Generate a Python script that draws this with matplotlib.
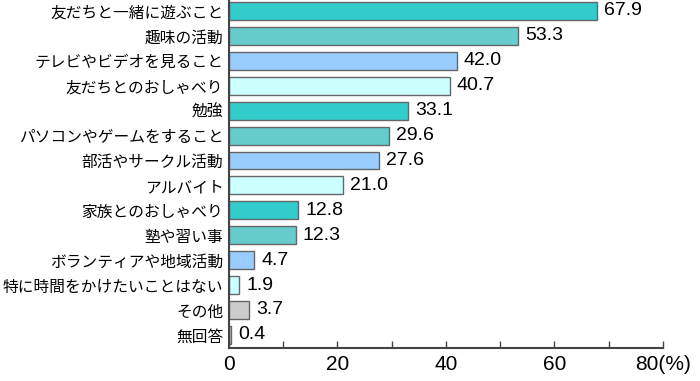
import matplotlib
matplotlib.use("Agg")
import matplotlib.pyplot as plt
import numpy as np

plt.rcParams['font.family'] = ['Noto Sans CJK JP', 'DejaVu Sans']

# categories, top to bottom
labels = ["友だちと一緒に遊ぶこと", "趣味の活動", "テレビやビデオを見ること",
          "友だちとのおしゃべり", "勉強", "パソコンやゲームをすること",
          "部活やサークル活動", "アルバイト", "家族とのおしゃべり", "塾や習い事",
          "ボランティアや地域活動", "特に時間をかけたいことはない", "その他", "無回答"]
values = [67.9, 53.3, 42.0, 40.7, 33.1, 29.6, 27.6, 21.0, 12.8, 12.3, 4.7, 1.9, 3.7, 0.4]
xticks = [0, 20, 40, 60, 80]
xticklabels = ["0", "20", "40", "60", "80(%)"]

palette = ["#33CCCC", "#66CCCC", "#99CCFF", "#CCFFFF"]
colors = [palette[i % 4] for i in range(12)] + ["#CCCCCC", "#CCCCCC"]

fig = plt.figure(figsize=(7, 3.81), dpi=100)
ax = fig.add_axes([0.327, 0.087, 0.62, 0.913])

ind = np.arange(len(labels))
ax.barh(ind, values, height=0.72, color=colors, edgecolor="#666666", linewidth=1.0)

for i, v in enumerate(values):
    ax.annotate("%.1f" % v, (v, i), xytext=(5, 0), textcoords="offset points",
                va="center", ha="left", fontsize=14, family="Liberation Sans")

ax.set_ylim(13.52, -0.44)
ax.set_xlim(0, 80)
ax.set_yticks(ind)
ax.set_yticklabels(labels, fontsize=11.3)
ax.tick_params(axis="y", length=0, pad=4)

ax.set_xticks(xticks)
ax.set_xticklabels(xticklabels, fontsize=15, family="Liberation Sans")
ax.set_xticks([10, 30, 50, 70], minor=True)
ax.tick_params(axis="x", which="both", direction="in", length=5, width=1, color="#444444", pad=5)

for s in ["top", "right"]:
    ax.spines[s].set_visible(False)
for s in ["left", "bottom"]:
    ax.spines[s].set_color("#444444")
    ax.spines[s].set_linewidth(1.5)

plt.savefig("out.png", dpi=100)
